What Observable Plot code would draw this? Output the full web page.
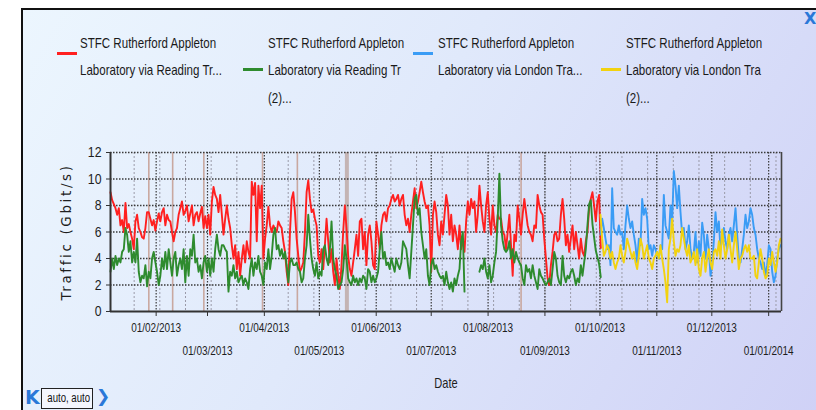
<!DOCTYPE html>
<html><head><meta charset="utf-8">
<script src="https://cdn.jsdelivr.net/npm/d3@7"></script>
<script src="https://cdn.jsdelivr.net/npm/@observablehq/plot@0.6"></script>
<style>
html,body{margin:0;padding:0;background:#fff;}
#wrap{position:relative;width:816px;height:410px;overflow:hidden;background:#fff;font-family:'Liberation Sans',Arial,sans-serif;}
#panel{position:absolute;left:21px;top:8px;width:800px;height:410px;border-left:2px solid #111;border-top:2px solid #111;box-sizing:border-box;
 background:linear-gradient(120deg,#ecf6fe 0%,#e0e9fb 45%,#cfd1f6 100%);}
.sw{position:absolute;width:20px;height:3px;}
.lt{position:absolute;font-size:15px;line-height:27.5px;color:#1a1a1a;white-space:nowrap;transform:scaleX(0.77);transform-origin:0 0;}
#chart{position:absolute;left:0;top:140px;}
#close{position:absolute;left:804px;top:9px;font:bold 16px 'DejaVu Sans',sans-serif;color:#2a78d8;}
#first{position:absolute;left:25px;top:386px;font:bold 19px 'DejaVu Sans',sans-serif;color:#2a78d8;}
#box{position:absolute;left:41px;top:388px;width:50px;height:19px;border:1px solid #222;background:#f4f6fe;font-size:12px;line-height:19px;text-align:center;color:#111;overflow:hidden;white-space:nowrap;}
#box span{display:inline-block;transform:scaleX(0.8);}
#next{position:absolute;left:96px;top:386px;font:bold 17px 'DejaVu Sans',sans-serif;color:#2a78d8;}
</style></head>
<body>
<div id="wrap">
  <div id="panel"></div>
  <div id="legend"></div>
  <div id="chart"></div>
  <div id="close">X</div>
  <div id="first">K</div>
  <div id="box"><span>auto, auto</span></div>
  <div id="next">&#x276F;</div>
</div>
<script>
// ---------- data ----------
const seriesNames = [
  ["STFC Rutherford Appleton", "Laboratory via Reading Tr..."],
  ["STFC Rutherford Appleton", "Laboratory via Reading Tr", "(2)..."],
  ["STFC Rutherford Appleton", "Laboratory via London Tra..."],
  ["STFC Rutherford Appleton", "Laboratory via London Tra", "(2)..."]
];
const seriesColors = ["#ff2020", "#2e8b2e", "#3a9cf5", "#f2d20f"];

// Reading links: samples from 2013-01-07 02:30 UTC, every 1305 minutes
const readingStart = "2013-01-07T02:30:00Z";
const readingStepMinutes = 1305;
// London links: samples from 2013-10-01 07:00 UTC, every 1309 minutes
const londonStart = "2013-10-01T07:00:00Z";
const londonStepMinutes = 1309;

const redValues = [
9.0,8.4,8.1,7.8,7.3,7.8,6.5,6.9,6.0,8.2,6.3,6.6,6.0,5.5,4.7,6.8,7.3,6.3,6.0,5.6,5.5,6.3,7.5,7.5,7.0,6.5,6.9,6.1,6.8,7.4,6.8,7.5,7.8,6.5,7.3,6.9,6.8,6.0,5.3,6.0,6.3,7.3,7.8,8.3,7.3,7.6,8.0,6.8,7.4,8.0,6.5,7.3,7.5,6.8,7.4,7.9,6.3,7.2,
6.3,7.3,5.8,8.3,9.4,8.8,8.5,7.5,8.8,7.3,5.8,7.0,8.0,7.0,6.3,5.0,4.0,5.0,3.2,4.5,2.7,4.0,5.0,3.7,5.3,4.5,4.0,9.8,8.8,9.7,5.3,9.5,7.8,9.5,4.0,5.5,6.5,7.9,6.5,6.0,6.5,6.2,6.0,6.8,6.5,6.3,5.3,4.5,3.0,2.0,6.0,8.5,9.0,7.5,5.5,4.2,3.0,3.3,3.7,
6.0,9.0,9.9,8.5,7.5,7.7,7.0,6.5,4.2,3.7,4.7,3.2,5.0,7.0,5.3,3.7,4.7,3.0,2.0,4.0,2.7,1.7,3.5,6.0,8.0,6.3,4.2,3.2,2.7,3.7,4.7,5.8,4.2,6.8,7.0,4.7,6.0,3.5,5.8,6.5,5.3,3.5,3.2,6.8,5.8,4.7,6.5,7.3,7.5,6.8,7.8,8.0,8.5,8.8,8.3,8.5,8.8,8.0,8.5,
8.8,7.3,6.5,7.0,6.0,7.3,8.3,9.3,7.8,8.3,9.0,9.8,9.0,8.3,7.8,8.0,6.5,3.0,7.3,8.3,7.5,5.8,5.0,6.8,5.8,7.3,8.8,8.0,5.8,7.3,5.3,6.5,5.8,4.7,6.5,4.7,5.5,4.5,6.8,8.3,7.3,8.5,7.8,8.3,6.0,7.3,9.5,8.0,6.8,6.0,8.0,9.0,7.0,5.8,8.0,6.5,6.0,7.3,7.0,
7.0,6.0,5.8,4.7,6.0,7.3,5.0,2.7,5.8,5.3,8.0,7.0,5.8,7.3,8.5,7.5,6.5,6.0,5.8,5.3,6.5,6.3,8.8,8.0,7.5,7.3,5.5,4.0,2.5,2.0,3.5,4.5,5.8,6.0,5.3,5.5,7.3,8.5,7.0,5.0,5.8,4.5,5.5,6.5,4.7,6.0,5.0,4.0,5.5,4.5,4.2,5.3,6.0,7.8,8.5,9.0,8.0,6.8,8.3,
8.8,4.8
];
const greenValues = [
3.0,4.0,3.2,4.2,3.5,4.0,3.7,4.5,4.7,6.3,5.8,4.5,5.3,3.7,4.5,3.7,5.5,3.0,2.2,2.7,2.5,3.5,1.9,3.0,2.5,4.0,4.5,3.7,3.0,2.0,2.7,4.0,3.2,4.5,3.2,4.7,3.7,2.7,4.0,4.5,2.7,3.5,4.0,3.2,4.7,2.2,4.2,2.7,4.7,4.2,5.8,3.7,4.0,3.0,3.5,2.5,3.7,4.2,
3.0,4.0,2.7,4.0,3.0,4.7,5.8,4.7,4.2,5.0,5.0,4.7,4.5,1.5,3.0,2.7,3.5,2.5,3.0,2.2,2.5,2.7,2.0,2.5,2.2,1.7,3.2,4.0,2.7,3.7,3.2,4.2,3.0,2.7,2.0,3.7,3.2,4.7,3.2,4.2,5.8,6.3,4.7,5.0,4.2,4.7,4.0,4.5,3.5,2.2,3.7,4.0,3.5,3.5,3.7,3.2,3.0,2.2,2.5,
4.0,5.0,7.3,5.5,4.0,3.2,2.7,3.7,2.5,3.0,2.7,4.7,5.0,4.0,3.5,4.7,6.8,4.0,3.2,2.7,1.7,2.0,2.2,3.2,5.0,4.0,2.5,2.2,2.0,2.7,2.2,2.5,2.0,2.5,2.2,2.7,2.5,1.7,3.2,3.0,2.2,2.7,2.2,2.5,3.0,4.7,6.0,4.0,4.5,3.5,3.7,3.2,4.0,3.5,3.0,4.0,3.5,3.2,3.7,
5.3,5.0,4.7,3.5,2.5,4.5,6.5,8.5,8.8,7.3,7.8,6.0,5.0,4.0,4.7,2.7,2.0,3.5,4.0,3.2,3.5,3.0,2.7,2.5,2.7,2.0,3.0,2.2,1.7,2.2,1.5,2.5,2.0,2.7,3.2,5.3,6.0,1.5,null,null,null,null,null,null,null,null,3.0,3.5,3.2,4.0,3.0,2.5,3.5,2.2,2.7,3.7,4.5,7.0,10.4,
6.5,5.3,4.7,4.5,4.7,5.3,4.0,4.7,3.7,4.5,4.0,3.7,3.5,2.5,2.0,3.5,3.0,3.2,2.5,3.5,2.7,2.2,1.7,3.2,2.7,2.5,2.2,2.0,2.2,2.5,2.0,3.2,4.5,4.0,2.7,2.2,2.0,4.2,2.7,2.2,2.7,2.5,3.0,3.2,2.7,2.0,2.5,2.2,3.5,2.7,3.7,4.7,6.5,8.1,8.4,6.6,5.6,4.6,4.1,
3.6,2.6
];
const blueValues = [
5.8,7.0,6.3,5.5,4.7,5.0,3.5,9.3,6.3,6.0,5.8,6.5,5.8,6.0,4.7,6.5,8.0,7.0,6.3,6.8,5.8,5.0,3.7,5.5,5.0,8.5,7.3,7.8,7.0,4.7,5.0,4.2,5.0,4.7,4.2,4.0,5.0,4.7,8.8,6.5,6.0,5.5,8.0,6.8,10.6,9.5,7.8,9.5,7.5,5.8,6.3,4.7,5.3,6.5,4.7,4.0,4.5,6.0,
3.7,5.3,4.2,6.7,5.8,4.0,5.8,4.7,2.7,3.5,5.3,7.5,6.0,6.8,4.7,5.5,6.3,5.3,4.7,5.8,6.3,5.3,6.5,7.8,5.8,4.0,3.7,4.7,5.8,7.3,6.3,6.8,7.8,7.3,6.3,5.8,4.7,4.0,3.7,3.2,3.7,2.7,3.5,5.0,4.7,3.0,2.2,2.7,4.0,4.7,5.0
];
const yellowValues = [
7.3,5.5,4.2,4.5,5.0,4.7,4.0,4.5,3.7,3.2,3.7,4.0,5.0,4.2,3.7,4.5,5.5,5.0,4.5,4.0,4.5,3.7,3.2,4.2,5.5,5.0,4.0,4.5,5.0,4.0,3.7,3.2,4.0,4.2,4.5,4.0,5.0,4.0,3.2,2.2,0.7,4.7,5.5,7.0,5.3,4.2,4.7,4.5,5.0,6.3,5.5,4.7,4.2,5.0,3.7,4.0,4.5,3.5,
4.7,3.2,2.7,4.0,4.5,3.0,4.0,4.7,3.7,3.2,4.5,4.7,4.2,5.3,4.0,6.2,5.0,4.0,4.7,5.8,4.7,3.7,5.0,6.0,4.7,3.2,4.0,4.2,4.7,5.0,4.5,5.0,4.0,4.0,4.2,2.7,2.5,3.7,4.7,4.0,3.0,2.5,2.7,4.0,3.5,4.5,3.7,3.0,3.7,5.0,5.5
];

const yTicks = [0, 2, 4, 6, 8, 10, 12];
const xTickLabelsUpper = ["01/02/2013", "01/04/2013", "01/06/2013", "01/08/2013", "01/10/2013", "01/12/2013"];
const xTickLabelsLower = ["01/03/2013", "01/05/2013", "01/07/2013", "01/09/2013", "01/11/2013", "01/01/2014"];
const eventDates = ["2013-01-28", "2013-02-10", "2013-02-27", "2013-03-31", "2013-04-19", "2013-08-19"];
const wideEventDates = ["2013-05-16"];
const xDomain = ["2013-01-07T02:30:00Z", "2014-01-08T00:00:00Z"];
const yLabel = "Traffic (Gbit/s)";
const xLabel = "Date";

// ---------- build ----------
const parseTick = d3.utcParse("%d/%m/%Y");
const fmtTick = d3.utcFormat("%d/%m/%Y");
function rows(values, start, stepMin, name) {
  const t0 = new Date(start);
  return values.map((v, i) => ({series: name, date: d3.utcMinute.offset(t0, i * stepMin), value: v}));
}
const red = rows(redValues, readingStart, readingStepMinutes, "r");
const green = rows(greenValues, readingStart, readingStepMinutes, "g");
const blue = rows(blueValues, londonStart, londonStepMinutes, "b");
const yellow = rows(yellowValues, londonStart, londonStepMinutes, "y");

const upper = xTickLabelsUpper.map(parseTick);
const lower = xTickLabelsLower.map(parseTick);
const months = upper.concat(lower);
const domain = xDomain.map(d => new Date(d));
const fortnights = [];
for (let d = new Date("2013-01-20T00:00:00Z"); d <= domain[1]; d = d3.utcDay.offset(d, 14)) fortnights.push(d);
const events = eventDates.map(d => new Date(d + "T00:00:00Z"));
const wideEvents = wideEventDates.map(d => new Date(d + "T00:00:00Z"));

// legend
const legendPos = [{sx: 57, tx: 80}, {sx: 243, tx: 268}, {sx: 413, tx: 438}, {sx: 601, tx: 626}];
const legend = document.getElementById("legend");
seriesNames.forEach((lines, i) => {
  const top = 28.5;
  const t = document.createElement("div");
  t.className = "lt";
  t.style.left = legendPos[i].tx + "px";
  t.style.top = top + "px";
  t.innerHTML = lines.map(s => s.replace(/&/g, "&amp;")).join("<br>");
  legend.appendChild(t);
  const s = document.createElement("div");
  s.className = "sw";
  s.style.left = legendPos[i].sx + "px";
  s.style.top = (top + lines.length * 27.5 / 2 - (lines.length === 2 ? 4 : 2)) + "px";
  s.style.background = seriesColors[i];
  legend.appendChild(s);
});

const lineOpts = {x: "date", y: "value", strokeWidth: 1.9, strokeLinejoin: "round", curve: "linear"};
const chart = Plot.plot({
  width: 816, height: 270,
  marginLeft: 110, marginRight: 35, marginTop: 12, marginBottom: 99,
  style: {background: "transparent", fontFamily: "'Liberation Sans',Arial,sans-serif", color: "#1e1e1e", overflow: "visible"},
  x: {type: "utc", domain},
  y: {domain: [0, 12]},
  marks: [
    Plot.ruleX(fortnights, {stroke: "#9a9aa8", strokeWidth: 1, strokeDasharray: "2,2"}),
    Plot.ruleX(events, {stroke: "#c9a8a0", strokeWidth: 1.6}),
    Plot.ruleX(wideEvents, {stroke: "#c4b4b4", strokeWidth: 4}),
    Plot.ruleX(months, {stroke: "#3a3a3a", strokeWidth: 1.2, strokeDasharray: "1.5,1.5"}),
    Plot.ruleY(yTicks.filter(v => v > 0), {stroke: "#3a3a3a", strokeWidth: 1.3, strokeDasharray: "1.5,1.5"}),
    Plot.line(red, {...lineOpts, stroke: seriesColors[0]}),
    Plot.line(green, {...lineOpts, stroke: seriesColors[1]}),
    Plot.line(blue, {...lineOpts, stroke: seriesColors[2]}),
    Plot.line(yellow, {...lineOpts, stroke: seriesColors[3]}),
    Plot.ruleY([0], {stroke: "#333", strokeWidth: 2}),
    Plot.ruleX([domain[0]], {stroke: "#333", strokeWidth: 2}),
    Plot.ruleX([domain[1]], {stroke: "#444", strokeWidth: 1.6}),
    Plot.axisY({ticks: yTicks, tickSize: 4, tickPadding: 5, fontSize: 15, label: null, stroke: "#333"}),
    Plot.axisX({ticks: upper, tickFormat: fmtTick, tickSize: 5, tickPadding: 6, fontSize: 13.5, label: null, stroke: "#333"}),
    Plot.axisX({ticks: lower, tickFormat: fmtTick, tickSize: 5, tickPadding: 29, fontSize: 13.5, label: null, stroke: "#333"}),
    Plot.text([yLabel], {frameAnchor: "left", textAnchor: "middle", lineAnchor: "middle", dx: -44, rotate: -90, fontSize: 13.5, fill: "#1e1e1e", fontFamily: "DejaVu Sans"}),
    Plot.text([xLabel], {frameAnchor: "bottom", textAnchor: "middle", lineAnchor: "middle", dy: 72, fontSize: 15, fill: "#1e1e1e"})
  ]
});
document.getElementById("chart").appendChild(chart);
// condensed look of the original widget's font
d3.select(chart).selectAll("text").each(function() {
  const len = this.getComputedTextLength();
  if (!len) return;
  if (this.textContent === yLabel) {
    const n = this.textContent.length;
    this.setAttribute("letter-spacing", ((137 - len) / n).toFixed(2) + "px");
  } else {
    const f = /^\d+$/.test(this.textContent) ? 0.82 : 0.74;
    this.setAttribute("textLength", (len * f).toFixed(1));
    this.setAttribute("lengthAdjust", "spacingAndGlyphs");
  }
});
</script>
</body></html>
